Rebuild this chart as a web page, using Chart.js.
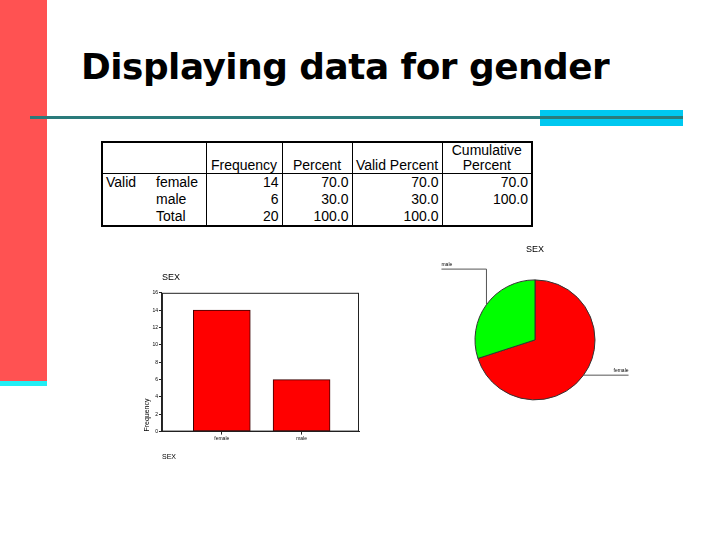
<!DOCTYPE html>
<html>
<head>
<meta charset="utf-8">
<script src="https://cdn.jsdelivr.net/npm/chart.js@4.4.1/dist/chart.umd.min.js"></script>
<style>
body{margin:0;width:720px;height:540px;position:relative;overflow:hidden;background:#fff;font-family:"Liberation Sans",Arial,sans-serif}
#redbar{position:absolute;left:0;top:0;width:47px;height:381px;background:#FF5252}
#cyanstrip{position:absolute;left:0;top:381px;width:47px;height:5px;background:#22EEF4}
#title{position:absolute;left:81px;top:49px;font-weight:bold;font-size:36px;font-family:"DejaVu Sans",Verdana,sans-serif;color:#000;white-space:nowrap;line-height:1;transform-origin:0 0;letter-spacing:-0.5px}
#cyanbox{position:absolute;left:540px;top:110px;width:143px;height:16px;background:#00C8F0}
#rule{position:absolute;left:30px;top:116px;width:653px;height:3px;background:#2A7B7B}
#freq{position:absolute;left:101px;top:141px;width:430px;table-layout:fixed;border-collapse:collapse;border:2px solid #000;font-size:14px;color:#000}
#freq td{padding:0 3px;height:17px;line-height:15px;white-space:nowrap;overflow:hidden}
#freq .h td{height:30px;vertical-align:bottom;text-align:center;border-bottom:1px solid #000}
#freq .n{text-align:right;border-left:1px solid #000}
#freq .sep{border-right:1px solid #000}
#bar{position:absolute;left:143px;top:268px;width:225px;height:197px}
#pie{position:absolute;left:430px;top:240px;width:210px;height:170px}
</style>
</head>
<body>
<div id="redbar"></div>
<div id="cyanstrip"></div>
<div id="title">Displaying data for gender</div>
<div id="cyanbox"></div>
<div id="rule"></div>

<table id="freq">
  <colgroup><col style="width:51px"><col style="width:53px"><col style="width:76px"><col style="width:70px"><col style="width:90px"><col style="width:90px"></colgroup>
  <tr class="h">
    <td colspan="2" class="sep"></td>
    <td class="n" style="text-align:center">Frequency</td>
    <td class="n" style="text-align:center">Percent</td>
    <td class="n" style="text-align:center">Valid Percent</td>
    <td class="n" style="text-align:center">Cumulative<br>Percent</td>
  </tr>
  <tbody id="rows"></tbody>
</table>

<div id="bar"><canvas id="barChart"></canvas></div>
<div id="pie"><canvas id="pieChart"></canvas></div>

<script>
// data from the SPSS output
var categories = ['female', 'male'];
var frequency = [14, 6];
var percent = ['70.0', '30.0'];
var validPercent = ['70.0', '30.0'];
var cumulativePercent = ['70.0', '100.0'];
var totalRow = ['20', '100.0', '100.0', ''];
var yTicks = {min: 0, max: 16, step: 2};

// squeeze the slide title to the width it has on the slide
var title = document.getElementById('title');
title.style.transform = 'scaleX(' + (528 / title.offsetWidth) + ')';

// fill the frequency table
var rows = document.getElementById('rows');
function addRow(first, label, cells) {
  var tr = document.createElement('tr');
  var html = '<td>' + first + '</td><td class="sep">' + label + '</td>';
  cells.forEach(function(c){ html += '<td class="n">' + c + '</td>'; });
  tr.innerHTML = html;
  rows.appendChild(tr);
}
categories.forEach(function(c, i){
  addRow(i === 0 ? 'Valid' : '', c, [frequency[i], percent[i], validPercent[i], cumulativePercent[i]]);
});
addRow('', 'Total', totalRow);

Chart.defaults.font.family = '"Liberation Sans", Arial, sans-serif';
Chart.defaults.color = '#000';

// box round the plot area like the SPSS chart
var frameBox = {
  id: 'frameBox',
  afterDraw: function(chart){
    var a = chart.chartArea, ctx = chart.ctx;
    ctx.save();
    ctx.strokeStyle = '#222';
    ctx.lineWidth = 1;
    ctx.strokeRect(a.left + 0.5, a.top + 0.5, a.right - a.left - 1, a.bottom - a.top - 1);
    ctx.restore();
  }
};

var bar_chart = new Chart(document.getElementById('barChart'), {
  type: 'bar',
  data: {
    datasets: [{
      data: categories.map(function(c, i){ return {x: i + 1, y: frequency[i]}; }),
      backgroundColor: '#FF0000',
      borderColor: '#3a0000',
      borderWidth: 1,
      borderSkipped: false,
      barThickness: 57
    }]
  },
  plugins: [frameBox],
  options: {
    responsive: true,
    maintainAspectRatio: false,
    animation: false,
    layout: {padding: {left: 0, right: 9, top: 0, bottom: 0}},
    plugins: {
      legend: {display: false},
      tooltip: {enabled: false},
      title: {display: true, text: 'SEX', align: 'start', fullSize: false, font: {size: 9, weight: 'normal'}, padding: {top: 4, bottom: 10}}
    },
    scales: {
      x: {
        type: 'linear',
        offset: false,
        min: 0.25,
        max: 2.72,
        afterBuildTicks: function(scale){
          scale.ticks = categories.map(function(c, i){ return {value: i + 1}; });
        },
        ticks: {
          font: {size: 5},
          padding: 1,
          autoSkip: false,
          maxRotation: 0,
          callback: function(v){ return categories[v - 1]; }
        },
        grid: {offset: false, drawOnChartArea: false, tickLength: 3, color: '#222'},
        border: {color: '#222'},
        title: {display: true, text: 'SEX', align: 'start', font: {size: 7}, padding: {top: 10}}
      },
      y: {
        min: yTicks.min,
        max: yTicks.max,
        ticks: {stepSize: yTicks.step, font: {size: 5}, padding: 1},
        grid: {drawOnChartArea: false, tickLength: 3, color: '#222'},
        border: {color: '#222'},
        title: {display: true, text: 'Frequency', align: 'start', font: {size: 7}, padding: 0}
      }
    }
  }
});

// leader lines with the slice labels
var leaderLines = {
  id: 'leaderLines',
  afterDraw: function(chart){
    var ctx = chart.ctx;
    var meta = chart.getDatasetMeta(0);
    ctx.save();
    ctx.strokeStyle = '#555';
    ctx.fillStyle = '#000';
    ctx.lineWidth = 1;
    ctx.font = '5px "Liberation Sans", Arial, sans-serif';
    meta.data.forEach(function(arc, i){
      var mid = (arc.startAngle + arc.endAngle) / 2;
      var px = arc.x + Math.cos(mid) * arc.outerRadius;
      var py = arc.y + Math.sin(mid) * arc.outerRadius;
      var dir = Math.cos(mid) < 0 ? -1 : 1;
      ctx.beginPath();
      ctx.moveTo(px, py);
      var ey = py;
      if (Math.sin(mid) < 0) {
        ey = arc.y - arc.outerRadius * 1.18;
        ctx.lineTo(px, ey);
      }
      var ex = px + dir * 45;
      ctx.lineTo(ex, ey);
      ctx.stroke();
      ctx.textAlign = dir < 0 ? 'left' : 'right';
      ctx.textBaseline = 'bottom';
      ctx.fillText(categories[i], ex, ey - 2);
    });
    ctx.restore();
  }
};

var pie_chart = new Chart(document.getElementById('pieChart'), {
  type: 'pie',
  data: {
    labels: categories,
    datasets: [{
      data: frequency,
      backgroundColor: ['#FF0000', '#00FF00'],
      borderColor: '#333',
      borderWidth: 1
    }]
  },
  plugins: [leaderLines],
  options: {
    responsive: true,
    maintainAspectRatio: false,
    animation: false,
    radius: 60,
    plugins: {
      legend: {display: false},
      tooltip: {enabled: false},
      title: {display: true, text: 'SEX', font: {size: 9, weight: 'normal'}, padding: {top: 4, bottom: 15}}
    }
  }
});
</script>
</body>
</html>
